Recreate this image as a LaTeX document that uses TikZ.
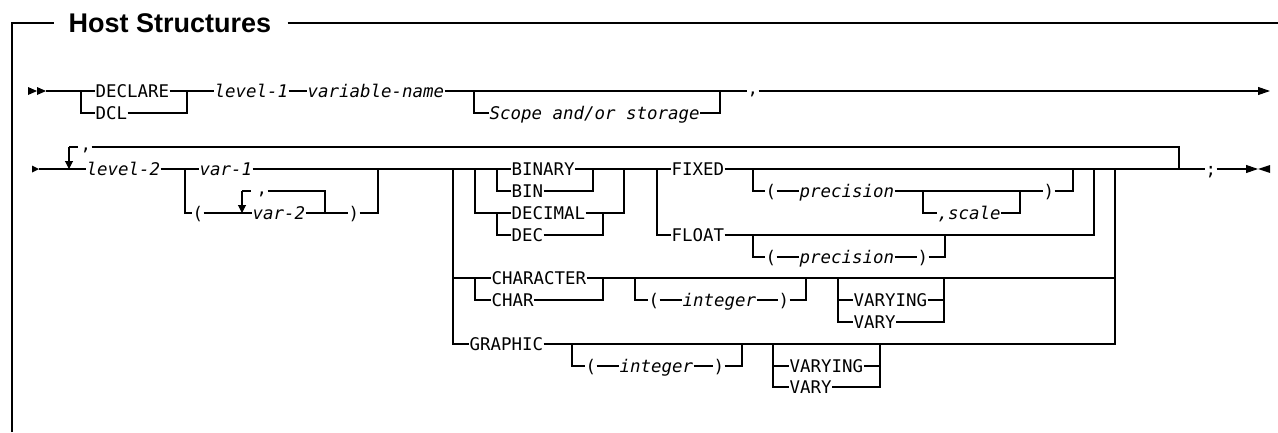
\documentclass[tikz,border=0pt]{standalone}
\usepackage{fontspec}
\newfontfamily\monofont{DejaVu Sans Mono}
\newfontfamily\titlefont{Liberation Sans}
\usetikzlibrary{arrows.meta}
\newcommand{\cm}{\raisebox{1.9pt}{,}}
\begin{document}
\begin{tikzpicture}[x=0.75pt,y=-0.75pt,line width=0.8pt,
  t/.style={inner sep=0pt,anchor=west,text height=9.5pt,text depth=0pt,
    font=\monofont\fontsize{13.08pt}{15pt}\selectfont},
  v/.style={t,font=\monofont\itshape\fontsize{13.08pt}{15pt}\selectfont},
  darr/.style={-{Triangle[length=6pt,width=6pt]}},
  rarr/.style={-{Triangle[length=9pt,width=6pt]}},
  frame/.style={line width=1.4pt}]
\useasboundingbox (0,0) rectangle (1278,432);
% frame and title
\node[inner sep=0pt,anchor=west,text height=14.5pt,text depth=0pt,
  font=\titlefont\bfseries\fontsize{20.25pt}{24pt}\selectfont] (title) at (68,23) {Host Structures};
\coordinate (fa) at (12,432);
\coordinate (fb) at (12,23);
\coordinate (fc) at (1278,23);
\draw[frame] (fa) -- (fb) -- ([xshift=-10.5pt]title.west);
\draw[frame] ([xshift=12pt]title.east) -- (fc);

% ---------------- row 1 ----------------
\fill (28,87) -- (37,91) -- (28,95) -- cycle;
\fill (37,87) -- (46,91) -- (37,95) -- cycle;
\coordinate (s1) at (46,91);
\coordinate (a1) at (81,91);
\node[t] (declare) at (95,91) {DECLARE};
\node[t] (dcl) at (95,113) {DCL};
\coordinate (a2) at (187,91);
\node[v] (lev1) at (214,91) {level-1};
\node[v] (varname) at (307,91) {variable-name};
\coordinate (a3) at (474,91);
\node[v] (scope) at (489,113) {Scope and/or storage};
\coordinate (a4) at (720,91);
\node[t] (c1) at (747,91) {\cm};
\coordinate (e1) at (1270,91);
\draw (s1) -- (declare.west);
\draw (a1) |- (dcl.west);
\draw (declare.east) -- (lev1.west);
\draw (dcl.east) -| (a2);
\draw (lev1.east) -- (varname.west);
\draw (varname.east) -- (c1.west);
\draw (a3) |- (scope.west);
\draw (scope.east) -| (a4);
\draw[rarr] (c1.east) -- (e1);

% ---------------- row 2 ----------------
\fill (32,165.5) -- (39,169) -- (32,172.5) -- cycle;
\coordinate (s2) at (39,169);
\coordinate (l1) at (69,147);
\coordinate (l1b) at (69,169);
\coordinate (l1c) at (78,147);
\node[t] (c2) at (80,147) {\cm};
\node[v] (lev2) at (86,169) {level-2};
\coordinate (r2) at (1179,169);
\draw (s2) -- (lev2.west);
\draw[darr] (l1) -- (l1b);
\draw (l1) -- (l1c);
\draw (c2.east) -| (r2);

% var-1 / var-2
\coordinate (b1) at (185,169);
\node[v] (var1) at (199,169) {var-1};
\node[t] (lp1) at (192,213) {(};
\coordinate (l2) at (242,191);
\coordinate (l2b) at (242,213);
\coordinate (l2c) at (251,191);
\node[t] (c3) at (256,191) {\cm};
\node[v] (var2) at (252,213) {var-2};
\coordinate (b2) at (325,213);
\node[t] (rp1) at (348,213) {)};
\coordinate (b3) at (378,169);
\draw (lev2.east) -- (var1.west);
\draw (b1) |- (lp1.west);
\draw (lp1.east) -- (var2.west);
\draw[darr] (l2) -- (l2b);
\draw (l2) -- (l2c);
\draw (c3.east) -| (b2);
\draw (var2.east) -- (rp1.west);
\draw (rp1.east) -| (b3);

% big choice
\coordinate (g1) at (453,169);
\coordinate (g2) at (475,169);
\coordinate (g3) at (497,169);
\coordinate (g3b) at (497,213);
\coordinate (g4) at (593,169);
\coordinate (g5) at (624,169);
\coordinate (g5b) at (603,213);
\coordinate (g6) at (657,169);
\node[t] (binary) at (511,169) {BINARY};
\node[t] (bin) at (511,191) {BIN};
\node[t] (decimal) at (511,213) {DECIMAL};
\node[t] (dec) at (511,235) {DEC};
\node[t] (fixed) at (671,169) {FIXED};
\node[t] (float) at (671,235) {FLOAT};
\node[t] (semi) at (1205,169) {;};
\draw (var1.east) -- (binary.west);
\draw (g2) |- (decimal.west);
\draw (g3) |- (bin.west);
\draw (g3b) |- (dec.west);
\draw (bin.east) -| (g4);
\draw (binary.east) -- (fixed.west);
\draw (decimal.east) -| (g5);
\draw (dec.east) -| (g5b);
\draw (g6) |- (float.west);
\draw (fixed.east) -- (semi.west);

% FIXED options
\coordinate (f1) at (753,169);
\node[t] (lp2) at (765,191) {(};
\node[v] (prec1) at (799,191) {precision};
\coordinate (f2) at (923,191);
\node[v] (scale) at (937,213) {,scale};
\coordinate (f3) at (1020,191);
\node[t] (rp2) at (1043,191) {)};
\coordinate (f4) at (1073,169);
\coordinate (f5) at (1094,169);
\coordinate (f6) at (1115,169);
\draw (f1) |- (lp2.west);
\draw (lp2.east) -- (prec1.west);
\draw (prec1.east) -- (rp2.west);
\draw (f2) |- (scale.west);
\draw (scale.east) -| (f3);
\draw (rp2.east) -| (f4);

% FLOAT options
\draw (float.east) -| (f5);
\coordinate (f7) at (753,235);
\node[t] (lp3) at (765,257) {(};
\node[v] (prec2) at (799,257) {precision};
\node[t] (rp3) at (917,257) {)};
\coordinate (f8) at (945,235);
\draw (f7) |- (lp3.west);
\draw (lp3.east) -- (prec2.west);
\draw (prec2.east) -- (rp3.west);
\draw (rp3.east) -| (f8);

% CHARACTER row
\coordinate (h0) at (453,278);
\coordinate (h1) at (475,278);
\node[t] (character) at (491,278) {CHARACTER};
\node[t] (char) at (491,300) {CHAR};
\coordinate (h2) at (603,278);
\draw (h0) -- (character.west);
\draw (h1) |- (char.west);
\draw (char.east) -| (h2);
\draw (character.east) -| (f6);
\coordinate (h3) at (635,278);
\node[t] (lp4) at (648,300) {(};
\node[v] (int1) at (682,300) {integer};
\node[t] (rp4) at (778,300) {)};
\coordinate (h4) at (806,278);
\draw (h3) |- (lp4.west);
\draw (lp4.east) -- (int1.west);
\draw (int1.east) -- (rp4.west);
\draw (rp4.east) -| (h4);
\coordinate (h5) at (838,278);
\coordinate (h5b) at (838,300);
\node[t] (varying1) at (853,300) {VARYING};
\node[t] (vary1) at (853,322) {VARY};
\coordinate (h6) at (944,278);
\coordinate (h6b) at (944,300);
\draw (h5) |- (vary1.west);
\draw (h5b) -- (varying1.west);
\draw (vary1.east) -| (h6);
\draw (varying1.east) -- (h6b);

% GRAPHIC row
\node[t] (graphic) at (469,344) {GRAPHIC};
\draw (g1) |- (graphic.west);
\draw (graphic.east) -| (f6);
\coordinate (k1) at (572,344);
\node[t] (lp5) at (585,366) {(};
\node[v] (int2) at (619,366) {integer};
\node[t] (rp5) at (713,366) {)};
\coordinate (k2) at (742,344);
\draw (k1) |- (lp5.west);
\draw (lp5.east) -- (int2.west);
\draw (int2.east) -- (rp5.west);
\draw (rp5.east) -| (k2);
\coordinate (k3) at (773,344);
\coordinate (k3b) at (773,366);
\node[t] (varying2) at (789,366) {VARYING};
\node[t] (vary2) at (789,387) {VARY};
\coordinate (k4) at (880,344);
\coordinate (k4b) at (880,366);
\draw (k3) |- (vary2.west);
\draw (k3b) -- (varying2.west);
\draw (vary2.east) -| (k4);
\draw (varying2.east) -- (k4b);

% end
\coordinate (e2) at (1258,169);
\draw[rarr] (semi.east) -- (e2);
\fill (1270,165) -- (1258,169) -- (1270,173) -- cycle;
\end{tikzpicture}
\end{document}
